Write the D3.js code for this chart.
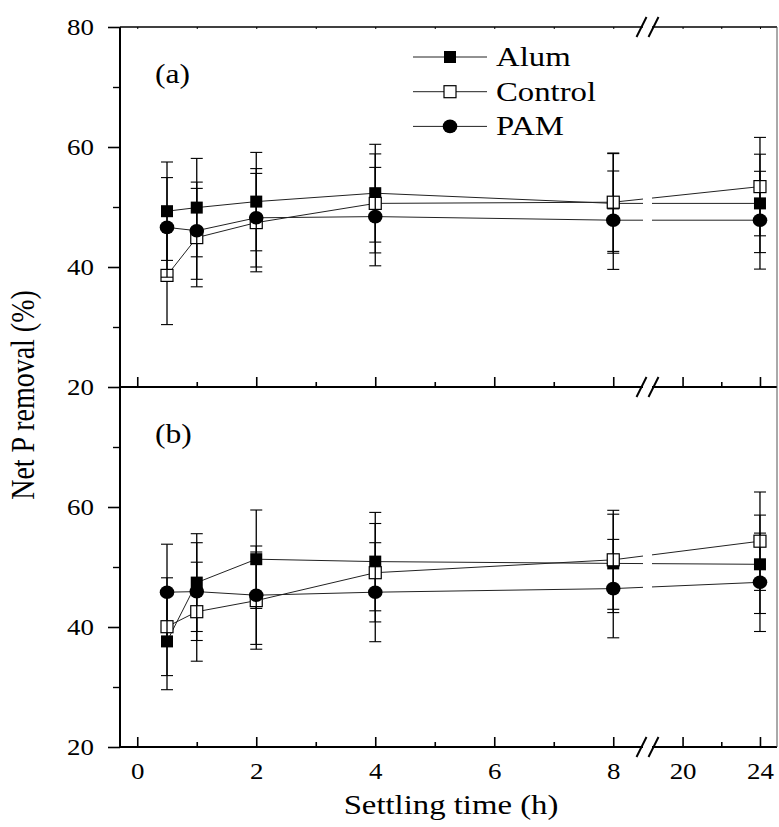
<!DOCTYPE html>
<html>
<head>
<meta charset="utf-8">
<script src="https://cdn.jsdelivr.net/npm/d3@7"></script>
<style>
  body { margin: 0; background: #fff; }
  text { font-family: "Liberation Serif", "Times New Roman", serif; fill: #000; }
</style>
</head>
<body>
<div id="chart"></div>
<script>
// Data
// ==============================
var times = [0.5, 1, 2, 4, 8, 24];

var alumA = [49.3, 49.9, 50.9, 52.3, 50.6, 50.6];
var alumAErr = [8.2, 8.2, 8.2, 8.15, 8.3, 8.2];
var controlA = [38.6, 44.9, 47.4, 50.6, 50.8, 53.4];
var controlAErr = [8.2, 8.2, 8.2, 8.25, 8.2, 8.2];
var pamA = [46.6, 46.05, 48.2, 48.4, 47.8, 47.8];
var pamAErr = [8.3, 8.1, 8.2, 8.2, 8.2, 8.15];

var alumB = [37.6, 47.4, 51.3, 50.9, 50.6, 50.45];
var alumBErr = [8.05, 8.15, 8.2, 8.2, 8.2, 8.2];
var controlB = [40.05, 42.55, 44.4, 49.05, 51.2, 54.3];
var controlBErr = [8.15, 8.25, 8.1, 8.2, 8.25, 8.2];
var pamB = [45.8, 45.9, 45.3, 45.8, 46.4, 47.45];
var pamBErr = [8.0, 8.15, 8.2, 8.25, 8.2, 8.2];

var seriesNames = ["Alum", "Control", "PAM"];
var panelLabels = ["(a)", "(b)"];

var xMajorLeft = [0, 2, 4, 6, 8];
var xMinorLeft = [1, 3, 5, 7];
var xMajorRight = [20, 24];
var xMinorRight = [22];
var yMajorTop = [20, 40, 60, 80];
var yMajorBottom = [20, 40, 60];
var yMinor = [30, 50, 70];

// Layout
// ==============================
var svgWidth = 779;
var svgHeight = 827;
var plotLeft = 120, plotRight = 777, plotTop = 27, panelH = 360;
var gapL = 643, gapR = 652;
var sx = 1.17; // the figure's text is stretched sideways

var svg = d3.select("#chart")
  .append("svg")
  .attr("width", svgWidth)
  .attr("height", svgHeight);

// Broken x scale: 0..8.5 on the left, 18.4..24.9 on the right
var xScale = d3.scaleLinear()
  .domain([-0.29, 8.5, 18.42, 24.88])
  .range([plotLeft, gapL, gapR, plotRight]);

var yScales = [
  d3.scaleLinear().domain([20, 80]).range([plotTop + panelH, plotTop]),
  d3.scaleLinear().domain([20, 80]).range([plotTop + 2 * panelH, plotTop + panelH])
];

var panels = [
  [
    { name: "Alum", values: alumA, err: alumAErr },
    { name: "Control", values: controlA, err: controlAErr },
    { name: "PAM", values: pamA, err: pamAErr }
  ],
  [
    { name: "Alum", values: alumB, err: alumBErr },
    { name: "Control", values: controlB, err: controlBErr },
    { name: "PAM", values: pamB, err: pamBErr }
  ]
];

function stretchText(sel) {
  sel.each(function() {
    var t = d3.select(this);
    var x = +t.attr("x") || 0;
    var y = +t.attr("y") || 0;
    t.attr("x", 0).attr("y", 0)
      .attr("transform", "translate(" + x + "," + y + ") scale(" + sx + ",1)");
  });
}

function drawMarker(g, name, cx, cy) {
  if (name === "PAM") {
    g.append("ellipse")
      .attr("cx", cx).attr("cy", cy)
      .attr("rx", 7.3).attr("ry", 6.8)
      .attr("fill", "#000");
  } else {
    g.append("rect")
      .attr("x", cx - 6).attr("y", cy - 6)
      .attr("width", 12).attr("height", 12)
      .attr("fill", name === "Alum" ? "#000" : "#fff")
      .attr("stroke", "#000")
      .attr("stroke-width", name === "Alum" ? 0 : 1.2);
  }
}

// Series: error bars, lines, markers
// ==============================
panels.forEach(function(series, p) {
  var y = yScales[p];
  var g = svg.append("g");

  series.forEach(function(s) {
    var sg = g.append("g");

    // error bars
    times.forEach(function(t, i) {
      var cx = xScale(t);
      var hi = y(s.values[i] + s.err[i]);
      var lo = y(s.values[i] - s.err[i]);
      sg.append("line")
        .attr("x1", cx).attr("x2", cx).attr("y1", hi).attr("y2", lo)
        .attr("stroke", "#000").attr("stroke-width", 1.3);
      [hi, lo].forEach(function(yy) {
        sg.append("line")
          .attr("x1", cx - 6).attr("x2", cx + 6).attr("y1", yy).attr("y2", yy)
          .attr("stroke", "#000").attr("stroke-width", 1.1);
      });
    });

    var line = d3.line()
      .x(function(d, i) { return xScale(times[i]); })
      .y(function(d) { return y(d); });

    sg.append("path")
      .datum(s.values)
      .attr("d", line)
      .attr("fill", "none")
      .attr("stroke", "#222")
      .attr("stroke-width", 1);

    times.forEach(function(t, i) {
      drawMarker(sg, s.name, xScale(t), y(s.values[i]));
    });
  });

  // panel label
  svg.append("text")
    .attr("x", 155)
    .attr("y", y(70) - 4)
    .attr("font-size", 27)
    .text(panelLabels[p])
    .call(stretchText);
});

// Axes
// ==============================
yScales.forEach(function(y, p) {
  var yMajor = p === 0 ? yMajorTop : yMajorBottom;

  var leftAxis = svg.append("g")
    .attr("transform", "translate(" + plotLeft + ",0)")
    .call(d3.axisLeft(y).tickValues(yMajor).tickSize(12).tickPadding(14)
      .tickFormat(d3.format("d")));
  leftAxis.select(".domain").remove();
  leftAxis.selectAll("line").attr("stroke-width", 1.6);
  leftAxis.selectAll("text")
    .attr("font-size", 23)
    .attr("font-family", "Liberation Serif")
    .call(stretchText);

  var leftMinor = svg.append("g")
    .attr("transform", "translate(" + plotLeft + ",0)")
    .call(d3.axisLeft(y).tickValues(yMinor).tickSize(7).tickFormat(""));
  leftMinor.select(".domain").remove();
  leftMinor.selectAll("line").attr("stroke-width", 1.4);

  // bottom axis of each panel, ticks pointing in
  var yb = y.range()[0];
  [[xMajorLeft, 10], [xMajorRight, 10], [xMinorLeft, 5], [xMinorRight, 5]].forEach(function(set, k) {
    var ax = svg.append("g")
      .attr("transform", "translate(0," + yb + ")")
      .call(d3.axisBottom(xScale).tickValues(set[0]).tickSize(-set[1])
        .tickPadding(16).tickFormat(p === 1 && k < 2 ? d3.format("d") : ""));
    ax.select(".domain").remove();
    ax.selectAll("line").attr("stroke-width", 1.6);
    ax.selectAll("text")
      .attr("font-size", 23)
      .attr("font-family", "Liberation Serif")
      .attr("dy", "0.71em")
      .call(stretchText);
  });
});

// small ticks on the very top edge
svg.append("g")
  .attr("transform", "translate(0," + plotTop + ")")
  .call(d3.axisTop(xScale).tickValues(xMajorLeft.concat(xMinorLeft, xMajorRight, xMinorRight))
    .tickSize(-2).tickFormat(""))
  .select(".domain").remove();

// Frame
var frame = svg.append("g").attr("stroke", "#000").attr("fill", "none");
[plotTop, plotTop + panelH, plotTop + 2 * panelH].forEach(function(yy, k) {
  frame.append("line")
    .attr("x1", plotLeft).attr("x2", plotRight).attr("y1", yy).attr("y2", yy)
    .attr("stroke-width", k === 0 ? 1.6 : 2);
});
frame.append("line")
  .attr("x1", plotLeft).attr("x2", plotLeft).attr("y1", plotTop).attr("y2", plotTop + 2 * panelH)
  .attr("stroke-width", 2);
frame.append("line")
  .attr("x1", plotRight).attr("x2", plotRight).attr("y1", plotTop).attr("y2", plotTop + 2 * panelH)
  .attr("stroke", "#555").attr("stroke-width", 1);

// Axis break: blank gap and the // marks
// ==============================
svg.append("rect")
  .attr("x", gapL).attr("y", plotTop - 3)
  .attr("width", gapR - gapL).attr("height", 2 * panelH + 6)
  .attr("fill", "#fff");

[plotTop, plotTop + panelH, plotTop + 2 * panelH].forEach(function(yy) {
  [gapL - 1.5, gapR + 1.5].forEach(function(cx) {
    svg.append("line")
      .attr("x1", cx - 5).attr("y1", yy + 10)
      .attr("x2", cx + 5).attr("y2", yy - 10)
      .attr("stroke", "#000").attr("stroke-width", 2);
  });
});

// Legend
// ==============================
var legend = svg.append("g");
seriesNames.forEach(function(name, i) {
  var ly = 57 + i * 34.7;
  legend.append("line")
    .attr("x1", 413).attr("x2", 487).attr("y1", ly).attr("y2", ly)
    .attr("stroke", "#222").attr("stroke-width", 1);
  drawMarker(legend, name, 450, ly);
  legend.append("text")
    .attr("x", 496).attr("y", ly + 9)
    .attr("font-size", 28)
    .text(name)
    .call(stretchText);
});

// Axis titles
// ==============================
svg.append("text")
  .attr("text-anchor", "middle")
  .attr("font-size", 28)
  .attr("transform", "translate(451,814) scale(" + sx + ",1)")
  .text("Settling time (h)");

svg.append("text")
  .attr("text-anchor", "middle")
  .attr("font-size", 28)
  .attr("transform", "translate(34,395) rotate(-90) scale(1," + sx + ")")
  .text("Net P removal (%)");
</script>
</body>
</html>
